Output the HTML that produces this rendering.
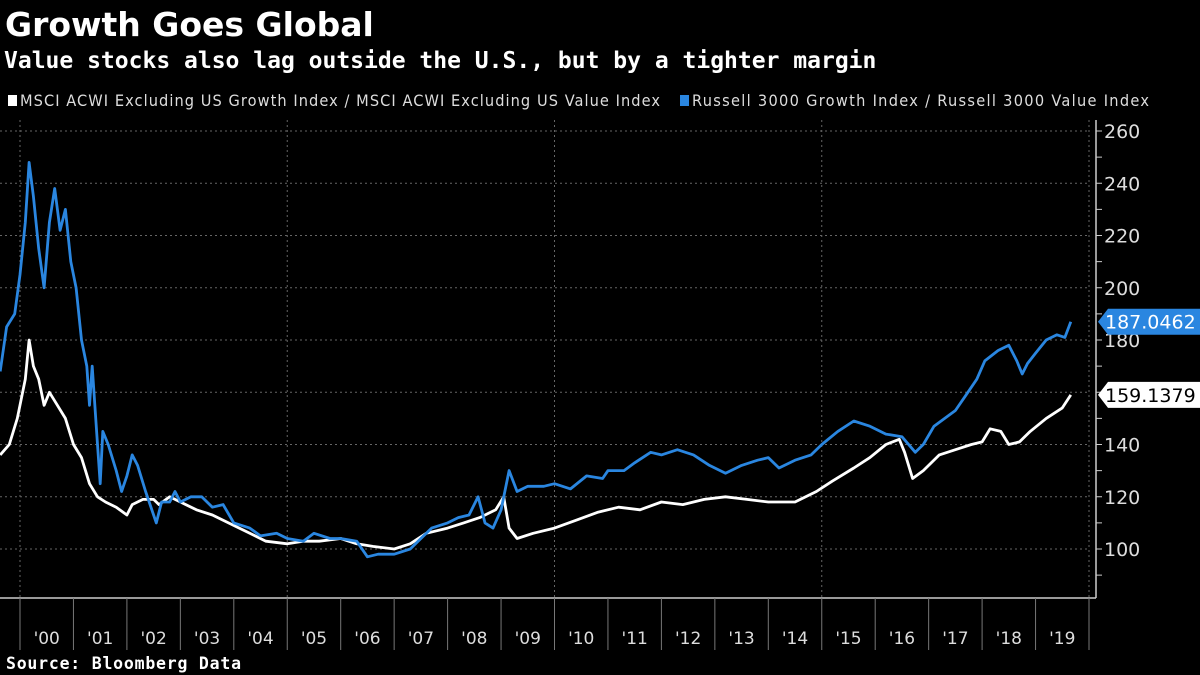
<!DOCTYPE html>
<html><head><meta charset="utf-8"><style>
html,body{margin:0;padding:0;background:#000;width:1200px;height:675px;overflow:hidden;font-family:"DejaVu Sans","Liberation Sans",sans-serif;color:#fff}
</style></head><body>
<svg width="1200" height="675" xmlns="http://www.w3.org/2000/svg">
<text x="5" y="36" font-size="33" font-weight="bold" fill="#fff" font-family="DejaVu Sans, sans-serif">Growth Goes Global</text>
<text x="4" y="68" font-size="23" font-weight="bold" fill="#fff" font-family="DejaVu Sans Mono, Liberation Mono, monospace">Value stocks also lag outside the U.S., but by a tighter margin</text>
<g>
<rect x="8" y="95" width="9" height="11" fill="#fff"/>
<text x="20" y="106" font-size="16.2" fill="#ddd" font-family="DejaVu Sans Condensed, DejaVu Sans, sans-serif" textLength="640">MSCI ACWI Excluding US Growth Index / MSCI ACWI Excluding US Value Index</text>
<rect x="680" y="95" width="9" height="11" fill="#2a86e0"/>
<text x="692" y="106" font-size="16.2" fill="#ddd" font-family="DejaVu Sans Condensed, DejaVu Sans, sans-serif" textLength="457">Russell 3000 Growth Index / Russell 3000 Value Index</text>
</g>
<g id="grid"></g><g id="axes"></g><g id="series"></g><g id="labels"></g>
<text x="6" y="669" font-size="16.5" font-weight="bold" fill="#fff" font-family="DejaVu Sans Mono, Liberation Mono, monospace" textLength="235">Source: Bloomberg Data</text>
</svg>
<script>
const yTicks=[100,120,140,160,180,200,220,240,260];
const yearLabels=["'00","'01","'02","'03","'04","'05","'06","'07","'08","'09","'10","'11","'12","'13","'14","'15","'16","'17","'18","'19"];
const russellDates=[1999.63,1999.75,1999.9,2000.0,2000.1,2000.17,2000.25,2000.35,2000.45,2000.55,2000.65,2000.75,2000.85,2000.95,2001.05,2001.15,2001.25,2001.3,2001.35,2001.45,2001.5,2001.55,2001.65,2001.8,2001.9,2002.0,2002.1,2002.2,2002.35,2002.55,2002.65,2002.8,2002.9,2003.0,2003.2,2003.4,2003.6,2003.8,2004.0,2004.3,2004.5,2004.8,2005.0,2005.3,2005.5,2005.8,2006.0,2006.3,2006.5,2006.7,2007.0,2007.3,2007.5,2007.7,2008.0,2008.2,2008.4,2008.57,2008.7,2008.85,2009.0,2009.15,2009.3,2009.5,2009.8,2010.0,2010.3,2010.6,2010.9,2011.0,2011.3,2011.5,2011.8,2012.0,2012.3,2012.6,2012.9,2013.2,2013.5,2013.8,2014.0,2014.2,2014.5,2014.8,2015.0,2015.3,2015.6,2015.9,2016.2,2016.5,2016.75,2016.9,2017.1,2017.3,2017.5,2017.7,2017.9,2018.05,2018.3,2018.5,2018.65,2018.75,2018.85,2019.0,2019.2,2019.4,2019.55,2019.66];
const russellValues=[168,185,190,205,225,248,235,215,200,225,238,222,230,210,200,180,170,155,170,140,125,145,140,130,122,128,136,132,122,110,118,118,122,118,120,120,116,117,110,108,105,106,104,103,106,104,104,103,97,98,98,100,104,108,110,112,113,120,110,108,115,130,122,124,124,125,123,128,127,130,130,133,137,136,138,136,132,129,132,134,135,131,134,136,140,145,149,147,144,143,137,140,147,150,153,159,165,172,176,178,172,167,171,175,180,182,181,187];
const msciDates=[1999.63,1999.8,1999.95,2000.1,2000.17,2000.25,2000.35,2000.45,2000.55,2000.7,2000.85,2001.0,2001.15,2001.3,2001.45,2001.6,2001.8,2002.0,2002.1,2002.3,2002.5,2002.6,2002.8,2003.0,2003.3,2003.6,2003.9,2004.3,2004.6,2005.0,2005.3,2005.6,2006.0,2006.3,2006.6,2007.0,2007.3,2007.6,2008.0,2008.3,2008.6,2008.9,2009.05,2009.15,2009.3,2009.6,2010.0,2010.4,2010.8,2011.2,2011.6,2012.0,2012.4,2012.8,2013.2,2013.6,2014.0,2014.5,2014.9,2015.2,2015.6,2015.9,2016.2,2016.45,2016.55,2016.7,2016.9,2017.2,2017.5,2017.8,2018.0,2018.15,2018.35,2018.5,2018.7,2018.9,2019.2,2019.5,2019.66];
const msciValues=[136,140,150,165,180,170,165,155,160,155,150,140,135,125,120,118,116,113,117,119,119,117,120,118,115,113,110,106,103,102,103,103,104,102,101,100,102,106,108,110,112,115,120,108,104,106,108,111,114,116,115,118,117,119,120,119,118,118,122,126,131,135,140,142,137,127,130,136,138,140,141,146,145,140,141,145,150,154,159];
const lastLabels=["187.0462","159.1379"];

const NS="http://www.w3.org/2000/svg";
const L=0,R=1090,T=120,B=598;
function xs(t){return 20+(t-2000)*53.45;}
function ys(v){return 549-(v-100)*2.6125;}
function mk(tag,attrs,parent){const e=document.createElementNS(NS,tag);for(const k in attrs)e.setAttribute(k,attrs[k]);document.getElementById(parent).appendChild(e);return e;}

yTicks.forEach(v=>{
 const g=mk('line',{x1:0,x2:R,y1:ys(v),y2:ys(v),stroke:'#666','stroke-dasharray':'2,3','stroke-width':1},'grid');
 
 
 const t=mk('text',{x:1104,y:ys(v)+7,'font-size':19,fill:'#ddd'},'axes');
 t.textContent=v;
 
 
});
for(let v=90;v<=260;v+=10){
 const tk=mk('line',{x1:1096,x2:1102,y1:ys(v),y2:ys(v),stroke:'#ccc','stroke-width':1},'axes');
 
 
}
[2000,2005,2010,2015,2020].forEach(y=>{
 const g=mk('line',{x1:xs(y),x2:xs(y),y1:T,y2:B,stroke:'#666','stroke-dasharray':'2,3','stroke-width':1},'grid');
 
 
});
let ax=mk('line',{x1:1096,x2:1096,y1:T,y2:B,stroke:'#ccc','stroke-width':1.5},'axes');


let bx=mk('line',{x1:0,x2:1096,y1:B,y2:B,stroke:'#ccc','stroke-width':1.5},'axes');


yearLabels.forEach((lab,i)=>{
 const sep=mk('line',{x1:xs(2000+i),x2:xs(2000+i),y1:B,y2:650,stroke:'#777','stroke-width':1},'axes');
 
 
 const t=mk('text',{x:xs(2000+i+0.5),y:644,'font-size':17,fill:'#ddd','text-anchor':'middle'},'axes');
 t.textContent=lab;
 
 
});
let e=mk('line',{x1:xs(2020),x2:xs(2020),y1:B,y2:650,stroke:'#777','stroke-width':1},'axes');



function line(d,v,color,name){
 const p=mk('path',{d:d.map((t,i)=>(i?'L':'M')+xs(t).toFixed(1)+','+ys(v[i]).toFixed(1)).join(''),fill:'none',stroke:color,'stroke-width':2.8,'stroke-linejoin':'round'},'series');
 
 
}
line(msciDates,msciValues,'#ffffff','msci-line');
line(russellDates,russellValues,'#2a86e0','russell-line');

function tag(v,txt,bg,fg,name){
 const y=ys(v);
 const p=mk('path',{d:`M1098,${y} L1108,${y-13} L1200,${y-13} L1200,${y+13} L1108,${y+13} Z`,fill:bg},'labels');
 
 
 const t=mk('text',{x:1105,y:y+7,'font-size':19,fill:fg},'labels');
 t.textContent=txt;
 
 
}
tag(russellValues[russellValues.length-1],lastLabels[0],'#2a86e0','#fff','russell-last-value');
tag(msciValues[msciValues.length-1],lastLabels[1],'#fff','#000','msci-last-value');
</script>
</body></html>
